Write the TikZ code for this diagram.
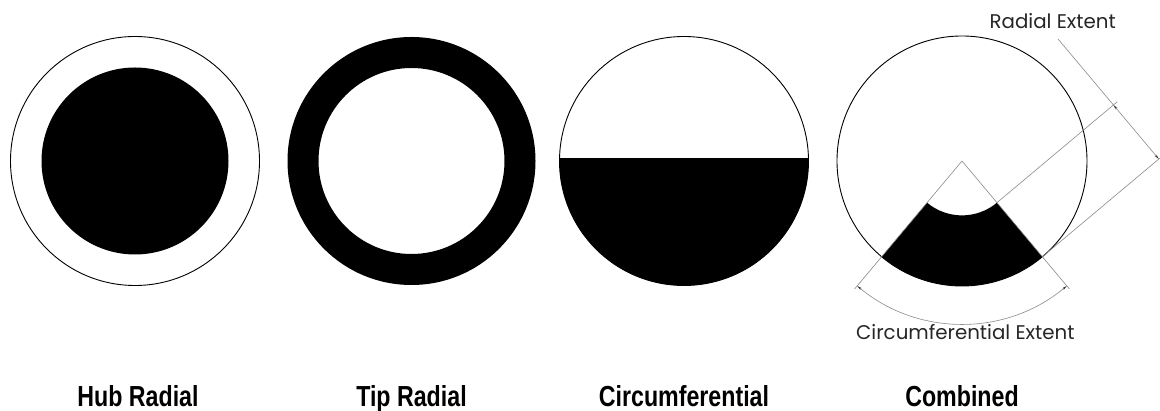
\documentclass[tikz,border=0pt]{standalone}
\usepackage{fontspec}
\usetikzlibrary{arrows.meta,calc}
\newfontfamily\labfont[FakeStretch=0.8]{Liberation Sans}
\newfontfamily\dimfont{Poppins}
\definecolor{dimgray}{HTML}{8A8A8A}
\tikzset{
  outline/.style={draw=black,line width=0.9pt},
  dimline/.style={draw=dimgray,line width=0.6pt},
  dimarrow/.style={dimline,{Stealth[length=5pt,width=2.2pt,color=black!80]}-{Stealth[length=5pt,width=2.2pt,color=black!80]}},
  caption/.style={font=\labfont\bfseries\fontsize{29}{32}\selectfont,anchor=base,inner sep=0pt},
  dimtext/.style={font=\dimfont\fontsize{19.8}{22}\selectfont,text=black!85,inner sep=0pt}
}
\begin{document}
\begin{tikzpicture}[x=1pt,y=1pt]
\useasboundingbox (0,0) rectangle (1160,411);
% centres
\coordinate (H) at (135,250);
\coordinate (T) at (411.5,250);
\coordinate (Ci) at (684,250);
\coordinate (Co) at (962,250);
% Hub Radial
\fill[black] (H) circle[radius=93.5];
\draw[outline] (H) circle[radius=124.5];
% Tip Radial
\fill[black,even odd rule] (T) circle[radius=124] (T) circle[radius=93];
% Circumferential
\begin{scope}
  \clip (Ci) circle[radius=124.5];
  \fill[black] ($(Ci)+(-130,3)$) rectangle ($(Ci)+(130,-130)$);
\end{scope}
\draw[outline] (Ci) circle[radius=124.5];
% Combined
\fill[black] ($(Co)+(-130:125)$) arc[start angle=-130,end angle=-50,radius=125]
  -- ($(Co)+(-50:54.4)$) arc[start angle=-50,end angle=-130,radius=54.4] -- cycle;
\draw[outline] (Co) circle[radius=125];
% extension lines of circumferential extent
\coordinate (EL) at ($(Co)+(-130:167)$);
\coordinate (ER) at ($(Co)+(-50:167)$);
\draw[dimline] (Co) -- (EL);
\draw[dimline] (Co) -- (ER);
\draw[dimarrow] ($(Co)+(-130:163)$) arc[start angle=-130,end angle=-50,radius=163];
% radial extent
\coordinate (P1) at ($(Co)+(-50:54.4)$);
\coordinate (P2) at ($(Co)+(-50:125)$);
\coordinate (Q1) at ($(P1)+(40:152)$);
\coordinate (Q2) at ($(P2)+(40:152)$);
\draw[dimline] (P1) -- ($(P1)+(40:157)$);
\draw[dimline] (P2) -- ($(P2)+(40:157)$);
\draw[dimarrow] (Q1) -- (Q2);
\coordinate (LeadEnd) at ($(Q1)+(130:86)$);
\draw[dimline] (Q1) -- (LeadEnd);
% texts
\node[dimtext,anchor=base east] (radtxt) at (1116,382.5) {Radial Extent};
\node[dimtext,anchor=base west] (circtxt) at (856,71) {Circumferential Extent};
\node[caption] (hub) at (138,4.3) {Hub Radial};
\node[caption] (tip) at (411.5,4.3) {Tip Radial};
\node[caption] (circ) at (684,4.3) {Circumferential};
\node[caption] (comb) at (962,4.3) {Combined};
\end{tikzpicture}
\end{document}
